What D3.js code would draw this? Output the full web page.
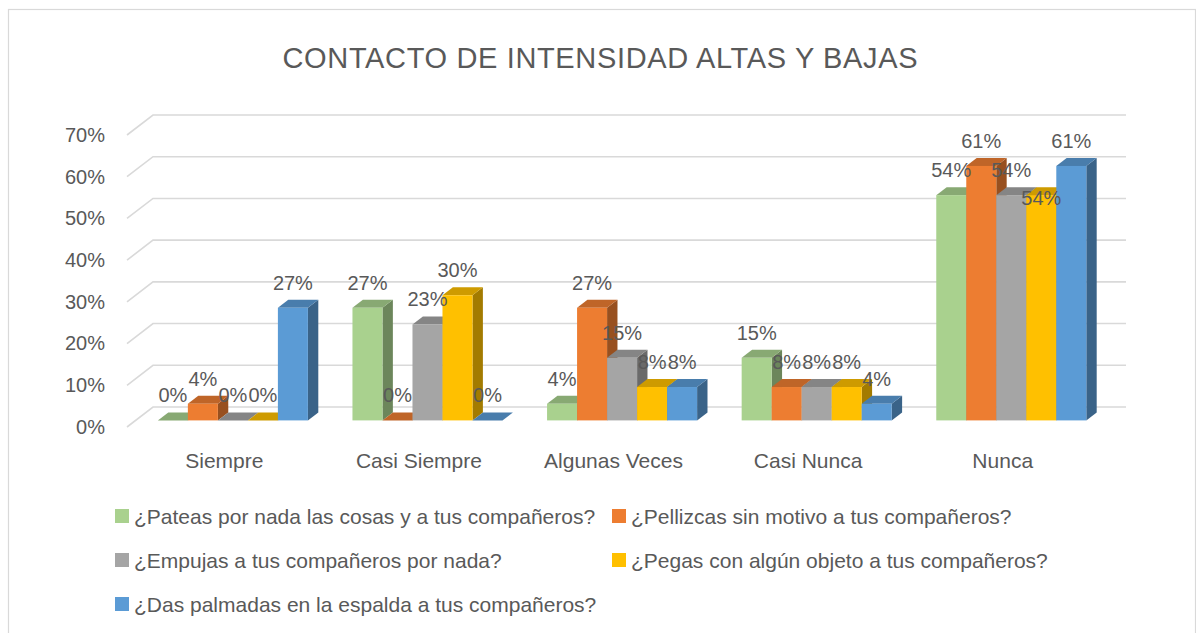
<!DOCTYPE html>
<html>
<head>
<meta charset="utf-8">
<script src="https://cdn.jsdelivr.net/npm/d3@7"></script>
<style>
  body { margin: 0; background: #fff; }
  svg text { font-family: "Liberation Sans", Arial, sans-serif; fill: #595959; }
</style>
</head>
<body>
<svg id="chart"></svg>
<script>
// --------------------
//  data
// --------------------
const categories = ["Siempre", "Casi Siempre", "Algunas Veces", "Casi Nunca", "Nunca"];
const seriesNames = [
    "¿Pateas por nada las cosas y a tus compañeros?",
    "¿Pellizcas sin motivo a tus compañeros?",
    "¿Empujas a tus compañeros por nada?",
    "¿Pegas con algún objeto a tus compañeros?",
    "¿Das palmadas en la espalda a tus compañeros?"
];
const pateas    = [0, 27, 4, 15, 54];
const pellizcas = [4, 0, 27, 8, 61];
const empujas   = [0, 23, 15, 8, 54];
const pegas     = [0, 30, 8, 8, 54];
const palmadas  = [27, 0, 8, 4, 61];
const yTicks = [0, 10, 20, 30, 40, 50, 60, 70];
const colors = ["#A9D18E", "#ED7D31", "#A5A5A5", "#FFC000", "#5B9BD5"];

const values = [pateas, pellizcas, empujas, pegas, palmadas];

// --------------------
//  layout
// --------------------
const width = 1196;
const height = 633;
const DX = 26, DY = -20;      // profundidad del suelo (frente -> fondo)
const f0 = 0.33, fd = 0.4;    // posición y profundidad de las barras
// la etiqueta amarilla de "Nunca" está más abajo en el original
const labelShift = {"Nunca|3": 28};

const svg = d3.select("#chart")
    .attr("width", width)
    .attr("height", height);

// borde del gráfico
svg.append("rect")
    .attr("x", 8.5).attr("y", 9.5)
    .attr("width", 1187).attr("height", 640)
    .attr("fill", "none")
    .attr("stroke", "#d9d9d9")
    .attr("stroke-width", 1.2);

svg.append("text")
    .attr("x", 600).attr("y", 68)
    .attr("text-anchor", "middle")
    .attr("font-size", "29px")
    .attr("textLength", 635)
    .text("CONTACTO DE INTENSIDAD ALTAS Y BAJAS");

const x = d3.scaleBand()
    .domain(categories)
    .range([127, 1100])
    .paddingInner(0.229)
    .paddingOuter(0.1145);

const xs = d3.scaleBand()
    .domain(d3.range(seriesNames.length))
    .range([0, x.bandwidth()]);

const y = d3.scaleLinear()
    .domain([0, 70])
    .range([427, 135]);

// líneas de cuadrícula (pared del fondo + pared lateral)
const grid = svg.append("g")
    .attr("stroke", "#d9d9d9")
    .attr("stroke-width", 1.6)
    .attr("fill", "none");
grid.selectAll("path")
    .data(yTicks)
    .join("path")
    .attr("d", d => `M${x.range()[0]},${y(d)}L${x.range()[0] + DX},${y(d) + DY}L${x.range()[1] + DX},${y(d) + DY}`);

// eje Y
const yAxis = svg.append("g")
    .attr("transform", "translate(108,0)")
    .call(d3.axisLeft(y).tickValues(yTicks).tickFormat(d => d + "%").tickSize(0).tickPadding(3));
yAxis.select(".domain").remove();
yAxis.selectAll("text").attr("font-size", "20px").attr("font-family", null).style("fill", "#595959");

// eje X
const xAxis = svg.append("g")
    .attr("transform", "translate(0,445)")
    .call(d3.axisBottom(x).tickSize(0).tickPadding(8));
xAxis.select(".domain").remove();
xAxis.selectAll("text").attr("font-size", "21px").attr("font-family", null).style("fill", "#595959");

// barras 3D
const bars = [];
categories.forEach((c, ci) => {
    values.forEach((s, si) => {
        bars.push({cat: c, ci: ci, si: si, value: s[ci]});
    });
});

const bdx = fd * DX, bdy = fd * DY;
const barG = svg.append("g");
const bar = barG.selectAll("g")
    .data(bars)
    .join("g");

function geom(d) {
    const x0 = x(d.cat) + xs(d.si) + f0 * DX;
    const w = xs.bandwidth();
    const yb = y(0) + f0 * DY;
    const yt = y(d.value) + f0 * DY;
    return {x0, w, yb, yt};
}

bar.append("path") // lado
    .attr("fill", d => d3.color(colors[d.si]).darker(1.25))
    .attr("d", d => {
        const g = geom(d);
        const xr = g.x0 + g.w;
        return `M${xr},${g.yt}L${xr + bdx},${g.yt + bdy}L${xr + bdx},${g.yb + bdy}L${xr},${g.yb}Z`;
    });
bar.append("path") // tapa
    .attr("fill", d => d3.color(colors[d.si]).darker(0.6))
    .attr("d", d => {
        const g = geom(d);
        return `M${g.x0},${g.yt}L${g.x0 + bdx},${g.yt + bdy}L${g.x0 + g.w + bdx},${g.yt + bdy}L${g.x0 + g.w},${g.yt}Z`;
    });
bar.append("rect") // frente
    .attr("fill", d => colors[d.si])
    .attr("x", d => geom(d).x0)
    .attr("y", d => geom(d).yt)
    .attr("width", d => geom(d).w)
    .attr("height", d => geom(d).yb - geom(d).yt);

// etiquetas de datos
svg.append("g")
    .selectAll("text")
    .data(bars)
    .join("text")
    .attr("x", d => geom(d).x0 + xs.bandwidth() / 2)
    .attr("y", d => geom(d).yt - 18 + (labelShift[d.cat + "|" + d.si] || 0))
    .attr("text-anchor", "middle")
    .attr("font-size", "20px")
    .text(d => d.value + "%");

// leyenda
const legendPos = [[115, 516], [612, 516], [115, 560], [612, 560], [115, 604]];
const legend = svg.append("g")
    .selectAll("g")
    .data(seriesNames)
    .join("g")
    .attr("transform", (d, i) => `translate(${legendPos[i][0]},${legendPos[i][1]})`);
legend.append("rect")
    .attr("x", 0).attr("y", -7)
    .attr("width", 14).attr("height", 14)
    .attr("fill", (d, i) => colors[i]);
legend.append("text")
    .attr("x", 19)
    .attr("y", 7.5)
    .attr("font-size", "21px")
    .text(d => d);
</script>
</body>
</html>
